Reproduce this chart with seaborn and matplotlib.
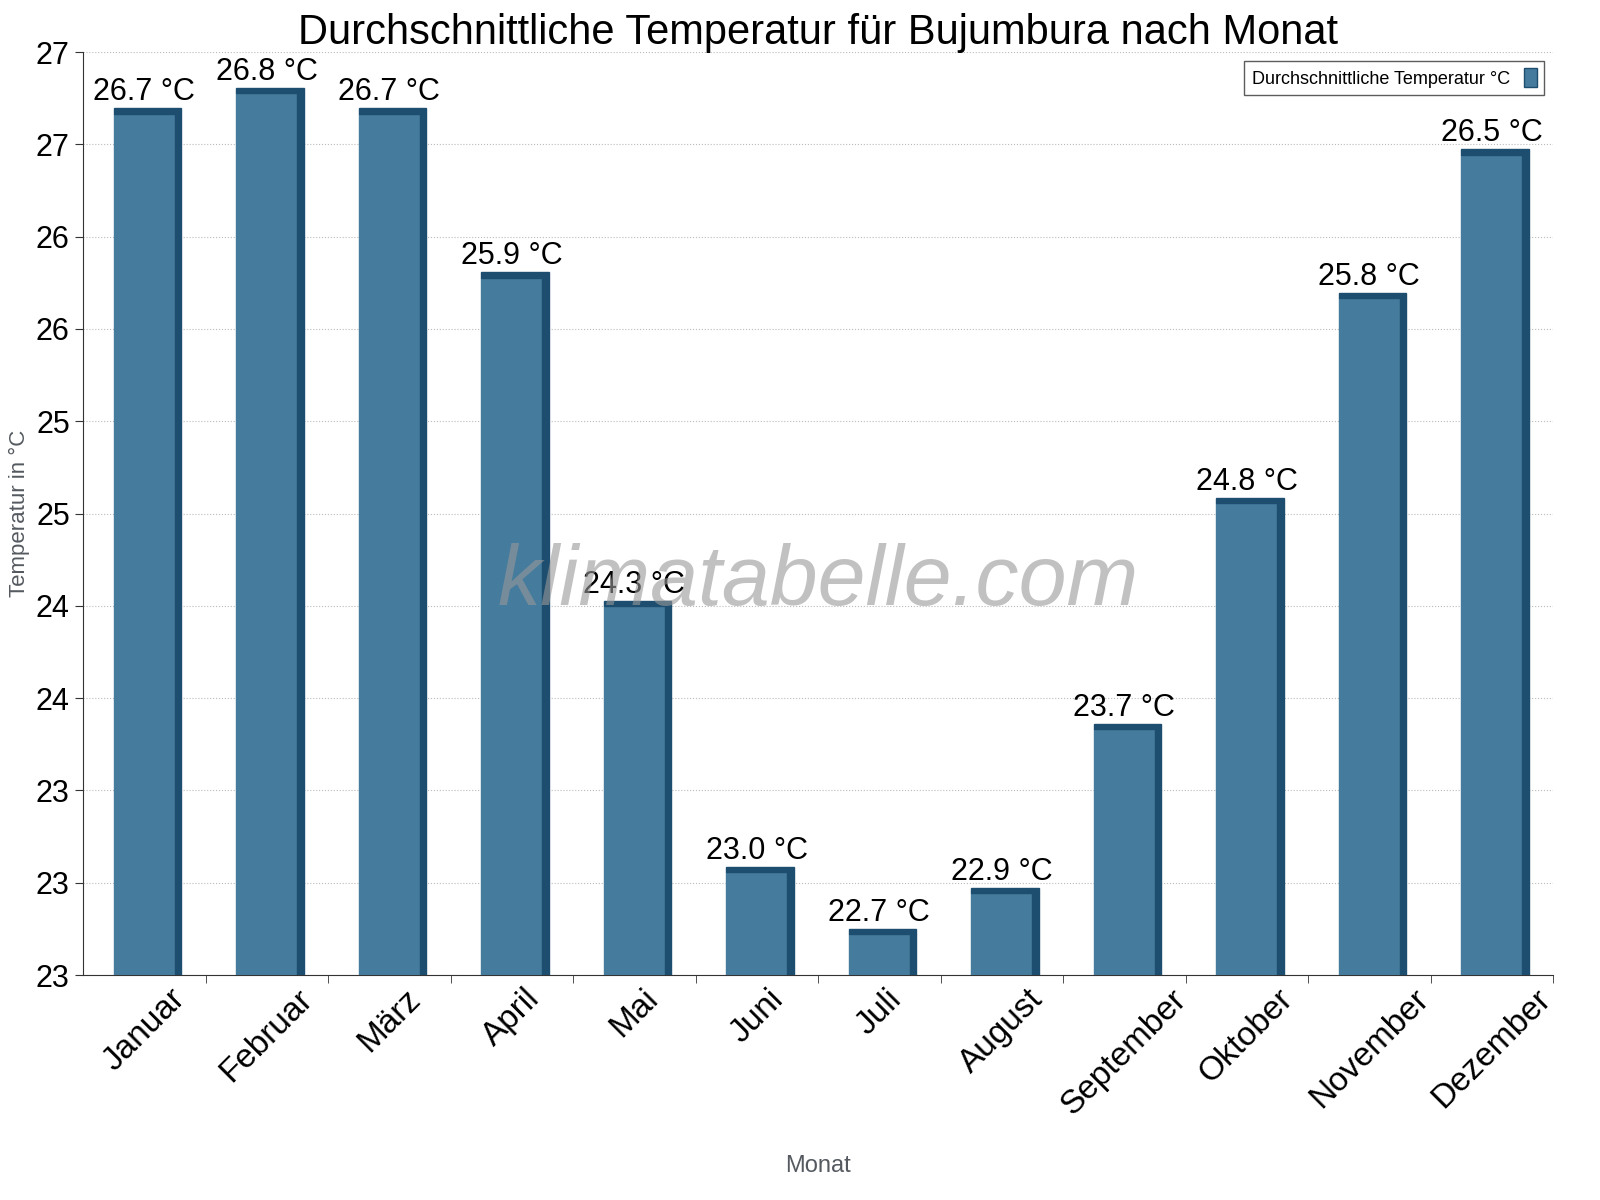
import numpy as np
import pandas as pd
import seaborn as sns
import matplotlib.pyplot as plt
from matplotlib.patches import Rectangle, Patch

months = ["Januar", "Februar", "März", "April", "Mai", "Juni", "Juli",
          "August", "September", "Oktober", "November", "Dezember"]
temps = [26.7, 26.8, 26.7, 25.9, 24.3, 23.0, 22.7, 22.9, 23.7, 24.8, 25.8, 26.5]
yticks = [22.5, 22.95, 23.4, 23.85, 24.3, 24.75, 25.2, 25.65, 26.1, 26.55, 27.0]
ytick_labels = ["23", "23", "23", "24", "24", "25", "25", "26", "26", "27", "27"]

sns.set_style("white")
plt.rcParams["font.family"] = ["Liberation Sans", "DejaVu Sans"]
plt.rcParams["text.color"] = "black"

df = pd.DataFrame({"Monat": months, "Temp": temps})
fig = plt.figure(figsize=(16, 12), dpi=100)
ax = fig.add_axes([83/1600, 1 - 975/1200, 1470/1600, 923/1200])

main = "#457b9d"
dark = "#1d4e6f"
sns.barplot(data=df, x="Monat", y="Temp", color=main, width=0.5, saturation=1,
            ax=ax, zorder=3)
ax.set_ylim(22.5, 27.0)
for p in list(ax.patches):
    x, w, h = p.get_x(), p.get_width(), p.get_height()
    p.set_edgecolor(main)
    ax.add_patch(Rectangle((x + w, 22.5), 0.05, h - 22.5 + p.get_y(), color=dark, zorder=3))
    ax.add_patch(Rectangle((x, h + p.get_y()), w + 0.05, 0.025, color=dark, zorder=3))
for i, t in enumerate(temps):
    ax.text(i, t + 0.03, f"{t:.1f} °C", ha="center", va="bottom", fontsize=22,
            color="black", zorder=5)

ax.set_xlim(-0.5, 11.5)
ax.set_yticks(yticks)
ax.set_yticklabels(ytick_labels, fontsize=22, color="black")
ax.set_xticks(np.arange(12))
ax.set_xticks(np.arange(12) + 0.5, minor=True)
ax.tick_params(axis="x", which="major", labelsize=24, length=0, labelcolor="black", pad=6)
ax.tick_params(axis="x", which="minor", length=6, bottom=True, color="#333333")
ax.tick_params(axis="y", length=6, direction="out", left=True, color="#333333")
for lbl in ax.get_xticklabels():
    lbl.set_rotation(45)
    lbl.set_ha("center")
    lbl.set_va("top")
ax.grid(axis="y", linestyle=":", color="#bbbbbb", zorder=0)
for s in ["top", "right"]:
    ax.spines[s].set_visible(False)
ax.spines["left"].set_color("#333333")
ax.spines["bottom"].set_color("#333333")

ax.set_xlabel("Monat", fontsize=17, color="#555a60", labelpad=25)
ax.set_ylabel("Temperatur in °C", fontsize=16, color="#555a60")
ax.set_title("Durchschnittliche Temperatur für Bujumbura nach Monat", fontsize=30,
             pad=6, color="black")
ax.text(0.5, 0.425, "klimatabelle.com", transform=ax.transAxes, ha="center", va="center",
        fontsize=62, style="italic", color="#999999", alpha=0.6, zorder=6)
leg = ax.legend(handles=[Patch(facecolor=main, edgecolor=dark)],
                labels=["Durchschnittliche Temperatur °C"], loc="upper right",
                fontsize=13, fancybox=False, edgecolor="#333333", markerfirst=False,
                handlelength=0.7, handleheight=1.2, bbox_to_anchor=(1.0, 1.0))
leg.get_frame().set_linewidth(1)
fig.savefig("out.png")
